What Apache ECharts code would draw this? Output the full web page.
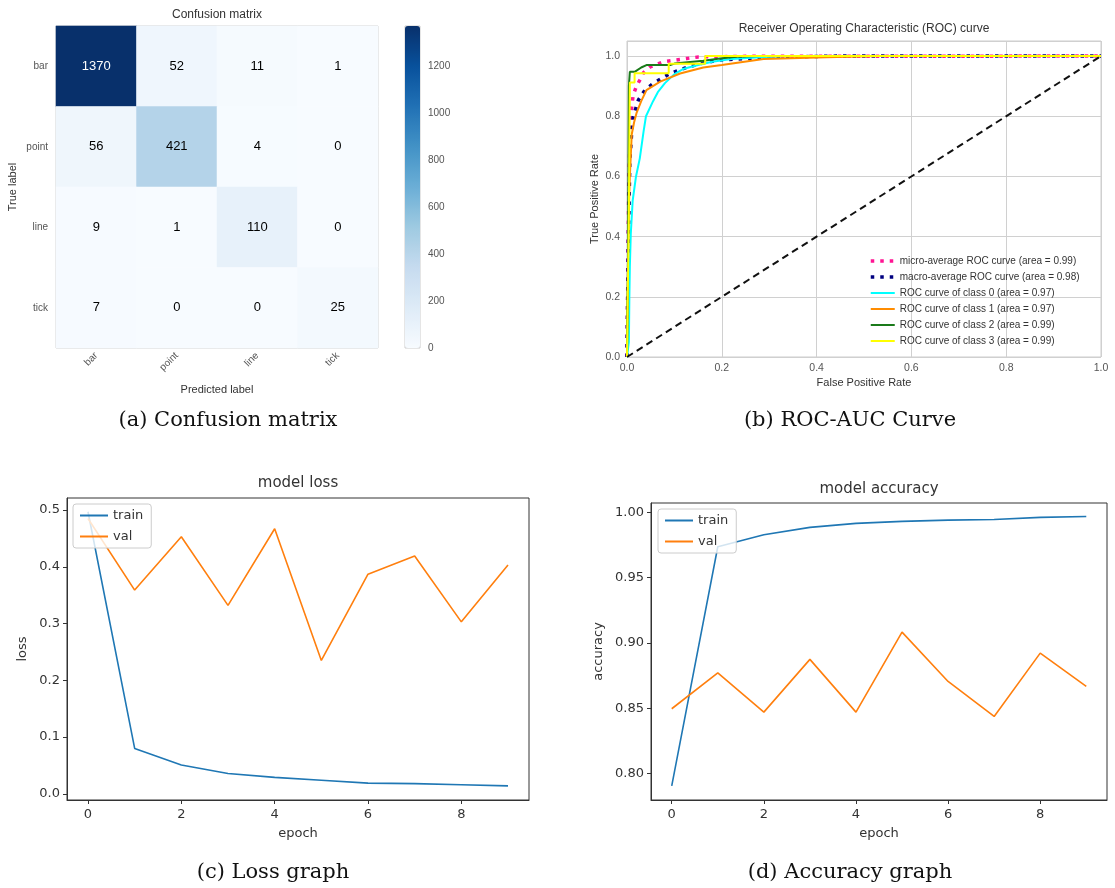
<!DOCTYPE html>
<html><head><meta charset="utf-8">
<script src="https://cdn.jsdelivr.net/npm/echarts@6/dist/echarts.min.js"></script>
<style>html,body{margin:0;padding:0;background:#fff}#c{width:1115px;height:888px}</style>
</head><body><div id="c"></div>
<script>
// ---------- data ----------
const cmClasses = ['bar', 'point', 'line', 'tick'];
const cmValues = [
  [1370, 52, 11, 1],
  [56, 421, 4, 0],
  [9, 1, 110, 0],
  [7, 0, 0, 25]
];
const cbTicks = [0, 200, 400, 600, 800, 1000, 1200];

const rocNames = [
  'micro-average ROC curve (area = 0.99)',
  'macro-average ROC curve (area = 0.98)',
  'ROC curve of class 0 (area = 0.97)',
  'ROC curve of class 1 (area = 0.97)',
  'ROC curve of class 2 (area = 0.99)',
  'ROC curve of class 3 (area = 0.99)'
];
const rocMicro = [[0,0],[0.002,0.3],[0.004,0.6],[0.007,0.75],[0.01,0.832],[0.013,0.87],[0.02,0.9],[0.027,0.92],[0.035,0.945],[0.049,0.964],[0.077,0.981],[0.126,0.992],[0.151,0.997],[0.25,0.999],[1,1]];
const rocMacro = [[0,0],[0.003,0.4],[0.006,0.65],[0.01,0.75],[0.013,0.798],[0.024,0.854],[0.038,0.887],[0.055,0.909],[0.091,0.942],[0.126,0.962],[0.161,0.977],[0.196,0.987],[0.3,0.996],[0.45,1.0],[1,1]];
const rocClass0 = [[0,0],[0.004,0.05],[0.005,0.2],[0.006,0.3],[0.008,0.41],[0.012,0.52],[0.019,0.6],[0.027,0.66],[0.035,0.75],[0.04,0.8],[0.055,0.85],[0.065,0.88],[0.08,0.91],[0.1,0.94],[0.12,0.958],[0.15,0.97],[0.18,0.981],[0.22,0.99],[0.29,0.997],[0.35,1.0],[1,1]];
const rocClass1 = [[0,0],[0.002,0.3],[0.004,0.5],[0.006,0.6],[0.01,0.74],[0.015,0.78],[0.02,0.81],[0.03,0.85],[0.041,0.887],[0.07,0.915],[0.112,0.942],[0.161,0.962],[0.2,0.97],[0.288,0.99],[0.421,0.996],[0.534,1.0],[1,1]];
const rocClass2 = [[0,0],[0.002,0.3],[0.004,0.9],[0.006,0.948],[0.017,0.948],[0.03,0.962],[0.041,0.97],[0.091,0.97],[0.1,0.975],[0.161,0.984],[0.196,0.992],[0.231,0.998],[0.28,1.0],[1,1]];
const rocClass3 = [[0,0],[0.004,0.5],[0.006,0.912],[0.016,0.912],[0.016,0.943],[0.088,0.943],[0.088,0.974],[0.165,0.974],[0.165,1.0],[1,1]];
const rocChance = [[0,0],[1,1]];

const epochs = [0, 1, 2, 3, 4, 5, 6, 7, 8, 9];
const epochTicks = [0, 2, 4, 6, 8];
const lossTrain = [0.497, 0.080, 0.051, 0.036, 0.029, 0.024, 0.019, 0.018, 0.016, 0.014];
const lossVal   = [0.485, 0.359, 0.453, 0.332, 0.467, 0.235, 0.387, 0.419, 0.303, 0.403];
const lossTicks = [0, 0.1, 0.2, 0.3, 0.4, 0.5];
const accTrain = [0.7905, 0.9737, 0.9829, 0.9885, 0.9916, 0.9931, 0.9941, 0.9946, 0.9962, 0.9969];
const accVal   = [0.8496, 0.8771, 0.8470, 0.8874, 0.8470, 0.9083, 0.8705, 0.8437, 0.8922, 0.8667];
const accTicks = [0.80, 0.85, 0.90, 0.95, 1.00];

// ---------- layout ----------
const G = {
  cm:   {left: 56,  top: 26,  width: 322, height: 322},
  cb:   {left: 405, top: 26,  width: 15,  height: 322},
  roc:  {left: 627, top: 41,  width: 474, height: 316},
  loss: {left: 67,  top: 498, width: 462, height: 302},
  acc:  {left: 651, top: 503, width: 456, height: 297}
};
const SANS = '"Liberation Sans", Arial, sans-serif';
const DJ = '"DejaVu Sans", sans-serif';
const SERIF = '"DejaVu Serif", "Liberation Serif", serif';
const blues = ['#f7fbff','#deebf7','#c6dbef','#9ecae1','#6baed6','#4292c6','#2171b5','#08519c','#08306b'];
const cmMax = Math.max(...cmValues.flat());

const heatData = [];
cmValues.forEach((row, r) => row.forEach((v, c) => {
  heatData.push({value: [c, r, v], label: {color: v > cmMax / 2 ? '#ffffff' : '#000000'}});
}));
const pairs = (xs, ys) => xs.map((x, i) => [x, ys[i]]);

function mplX(gi, ticks) {
  return {
    type: 'value', gridIndex: gi, min: -0.45, max: 9.45,
    name: 'epoch', nameLocation: 'middle', nameGap: 27,
    nameTextStyle: {fontFamily: DJ, fontSize: 13, color: '#333'},
    axisLine: {show: true, onZero: false, lineStyle: {color: '#333', width: 1}},
    axisTick: {show: true, inside: false, length: 4, customValues: ticks, lineStyle: {color: '#333'}},
    axisLabel: {customValues: ticks, margin: 8, fontFamily: DJ, fontSize: 13, color: '#333'},
    splitLine: {show: false}
  };
}
function mplY(gi, min, max, ticks, name, gap, dec) {
  return {
    type: 'value', gridIndex: gi, min: min, max: max,
    name: name, nameLocation: 'middle', nameGap: gap,
    nameTextStyle: {fontFamily: DJ, fontSize: 13, color: '#333'},
    axisLine: {show: true, onZero: false, lineStyle: {color: '#333', width: 1}},
    axisTick: {show: true, inside: false, length: 4, customValues: ticks, lineStyle: {color: '#333'}},
    axisLabel: {customValues: ticks, margin: 7, fontFamily: DJ, fontSize: 13, color: '#333',
      formatter: v => Number(v).toFixed(dec)},
    splitLine: {show: false}
  };
}
const rocLine = (name, data, color, dotted, z) => ({
  name: name, type: 'line', xAxisIndex: 2, yAxisIndex: 2, data: data,
  symbol: 'none', showSymbol: false, z: z,
  lineStyle: dotted ? {color: color, width: 3.5, type: [3.5, 6], cap: 'butt'} : {color: color, width: 2},
  itemStyle: {color: color}
});
const mplLine = (name, gi, data, color) => ({
  name: name, type: 'line', xAxisIndex: gi, yAxisIndex: gi, data: data,
  symbol: 'none', showSymbol: false,
  lineStyle: {color: color, width: 1.6}, itemStyle: {color: color}
});
const txt = (text, x, y, font, color) => ({
  type: 'text', x: x, y: y,
  style: {text: text, font: font, fill: color, align: 'center', verticalAlign: 'middle',
          textAlign: 'center', textVerticalAlign: 'middle'}
});
const hideSym = {color: 'rgba(0,0,0,0)', borderWidth: 0, opacity: 0};

const option = {
  animation: false,
  backgroundColor: '#ffffff',
  grid: [
    Object.assign({show: true, borderColor: '#cccccc', borderWidth: 1, backgroundColor: '#fff'}, G.cm),
    Object.assign({show: true, borderColor: '#cccccc', borderWidth: 1}, G.cb),
    Object.assign({show: true, borderColor: '#cccccc', borderWidth: 1}, G.roc),
    Object.assign({show: true, borderColor: '#333333', borderWidth: 1}, G.loss),
    Object.assign({show: true, borderColor: '#333333', borderWidth: 1}, G.acc)
  ],
  xAxis: [
    {type: 'category', gridIndex: 0, data: cmClasses,
     name: 'Predicted label', nameLocation: 'middle', nameGap: 36,
     nameTextStyle: {fontFamily: SANS, fontSize: 11, color: '#333'},
     axisLine: {show: false}, axisTick: {show: false}, splitLine: {show: false},
     axisLabel: {rotate: 45, margin: 6, fontFamily: SANS, fontSize: 10, color: '#555'}},
    {type: 'value', gridIndex: 1, min: 0, max: 1, show: false},
    {type: 'value', gridIndex: 2, min: 0, max: 1, interval: 0.2,
     name: 'False Positive Rate', nameLocation: 'middle', nameGap: 20,
     nameTextStyle: {fontFamily: SANS, fontSize: 11, color: '#333'},
     axisLine: {show: false}, axisTick: {show: false},
     axisLabel: {margin: 6, fontFamily: SANS, fontSize: 10.5, color: '#555', formatter: v => v.toFixed(1)},
     splitLine: {show: true, lineStyle: {color: '#d0d0d0', width: 1}}},
    mplX(3, epochTicks),
    mplX(4, epochTicks)
  ],
  yAxis: [
    {type: 'category', gridIndex: 0, data: cmClasses, inverse: true,
     name: 'True label', nameLocation: 'middle', nameGap: 38,
     nameTextStyle: {fontFamily: SANS, fontSize: 11, color: '#333'},
     axisLine: {show: false}, axisTick: {show: false}, splitLine: {show: false},
     axisLabel: {margin: 8, fontFamily: SANS, fontSize: 10, color: '#555'}},
    {type: 'value', gridIndex: 1, min: 0, max: cmMax, position: 'right',
     axisLine: {show: false}, axisTick: {show: false}, splitLine: {show: false},
     axisLabel: {customValues: cbTicks, margin: 8, fontFamily: SANS, fontSize: 10, color: '#555',
       formatter: v => String(Math.round(v))}},
    {type: 'value', gridIndex: 2, min: 0, max: 1.05, interval: 0.2,
     name: 'True Positive Rate', nameLocation: 'middle', nameGap: 27,
     nameTextStyle: {fontFamily: SANS, fontSize: 11, color: '#333'},
     axisLine: {show: false}, axisTick: {show: false},
     axisLabel: {margin: 7, showMaxLabel: false, fontFamily: SANS, fontSize: 10.5, color: '#555',
       formatter: v => v > 1.01 ? '' : v.toFixed(1)},
     splitLine: {show: true, lineStyle: {color: '#d0d0d0', width: 1}}},
    mplY(3, -0.0108, 0.5212, lossTicks, 'loss', 38, 1),
    mplY(4, 0.7797, 1.0072, accTicks, 'accuracy', 46, 2)
  ],
  visualMap: [{
    type: 'continuous', seriesIndex: 0, min: 0, max: cmMax, calculable: false,
    left: G.cb.left, top: G.cb.top, itemWidth: G.cb.width, itemHeight: G.cb.height,
    padding: 0, text: null, showLabel: false, hoverLink: false,
    inRange: {color: blues}
  }],
  legend: [
    {data: rocNames, orient: 'vertical', left: 869, top: 256, padding: 0,
     itemWidth: 24, itemHeight: 10, itemGap: 6, selectedMode: false, itemStyle: hideSym,
     lineStyle: {width: 'inherit'},
     textStyle: {fontFamily: SANS, fontSize: 10, color: '#333', lineHeight: 10}},
    {data: ['train', 'val'], orient: 'vertical', left: 73, top: 504, padding: [5, 8, 5, 6],
     itemWidth: 28, itemHeight: 12, itemGap: 8, selectedMode: false, itemStyle: hideSym,
     borderColor: '#cccccc', borderWidth: 1, borderRadius: 3, backgroundColor: 'rgba(255,255,255,0.8)',
     textStyle: {fontFamily: DJ, fontSize: 13, color: '#333'}},
    {data: ['train', 'val'], orient: 'vertical', left: 658, top: 509, padding: [5, 8, 5, 6],
     itemWidth: 28, itemHeight: 12, itemGap: 8, selectedMode: false, itemStyle: hideSym,
     borderColor: '#cccccc', borderWidth: 1, borderRadius: 3, backgroundColor: 'rgba(255,255,255,0.8)',
     textStyle: {fontFamily: DJ, fontSize: 13, color: '#333'}}
  ],
  series: [
    {type: 'heatmap', xAxisIndex: 0, yAxisIndex: 0, data: heatData,
     label: {show: true, fontFamily: SANS, fontSize: 13, formatter: p => String(p.value[2])},
     itemStyle: {borderWidth: 0}, emphasis: {disabled: true}},
    rocLine(rocNames[0], rocMicro, '#ff1493', true, 3),
    rocLine(rocNames[1], rocMacro, '#000080', true, 4),
    rocLine(rocNames[2], rocClass0, '#00ffff', false, 5),
    rocLine(rocNames[3], rocClass1, '#ff8c00', false, 6),
    rocLine(rocNames[4], rocClass2, '#1a7a1a', false, 7),
    rocLine(rocNames[5], rocClass3, '#ffff00', false, 8),
    {type: 'line', xAxisIndex: 2, yAxisIndex: 2, data: rocChance, symbol: 'none', z: 9,
     lineStyle: {color: '#111', width: 2, type: [7, 4.5]}},
    mplLine('train', 3, pairs(epochs, lossTrain), '#1f77b4'),
    mplLine('val', 3, pairs(epochs, lossVal), '#ff7f0e'),
    mplLine('train', 4, pairs(epochs, accTrain), '#1f77b4'),
    mplLine('val', 4, pairs(epochs, accVal), '#ff7f0e')
  ],
  graphic: [
    txt('Confusion matrix', 217, 15, '12px ' + SANS, '#333'),
    txt('Receiver Operating Characteristic (ROC) curve', 864, 29, '12px ' + SANS, '#333'),
    txt('model loss', G.loss.left + G.loss.width / 2, 483, '15px ' + DJ, '#333'),
    txt('model accuracy', G.acc.left + G.acc.width / 2, 489, '15px ' + DJ, '#333'),
    txt('(a) Confusion matrix', 228, 421, '21px ' + SERIF, '#111'),
    txt('(b) ROC-AUC Curve', 850, 421, '21px ' + SERIF, '#111'),
    txt('(c) Loss graph', 273, 873, '21px ' + SERIF, '#111'),
    txt('(d) Accuracy graph', 850, 873, '21px ' + SERIF, '#111')
  ]
};
const chart = echarts.init(document.getElementById('c'), null, {renderer: 'canvas'});
chart.setOption(option);
</script>
</body></html>
